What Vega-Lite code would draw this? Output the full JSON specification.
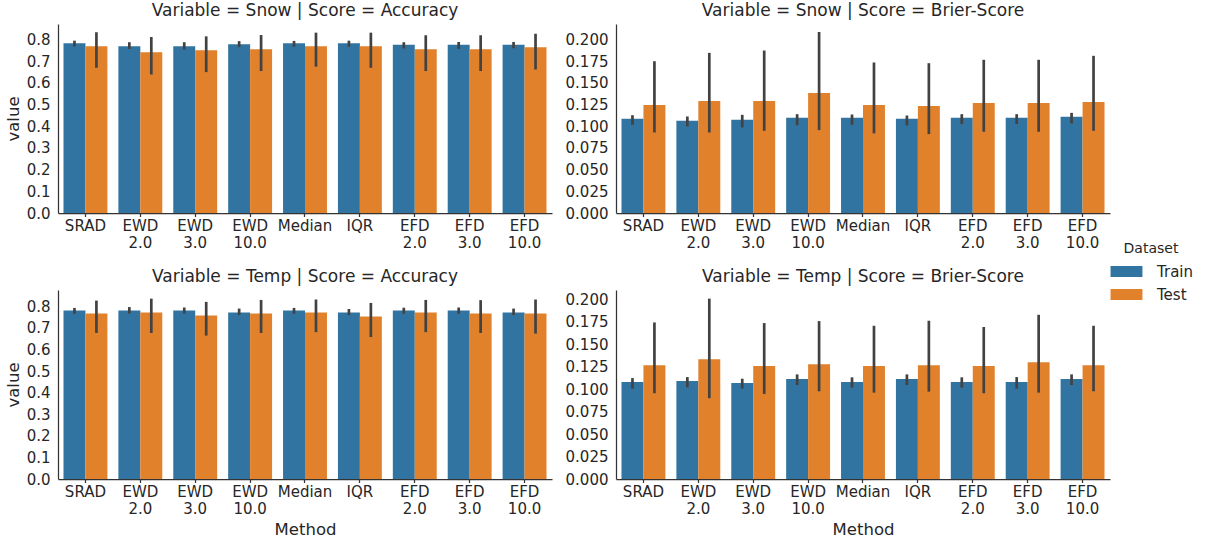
{
  "$schema": "https://vega.github.io/schema/vega-lite/v6.json",
  "padding": {"left": 5, "top": 2, "right": 5, "bottom": 5},
  "spacing": 17,
  "config": {
    "font": "DejaVu Sans",
    "view": {"stroke": null},
    "axis": {"grid": false, "ticks": false, "domainColor": "#333333", "domainWidth": 1.25, "labelColor": "#262626", "titleColor": "#262626", "labelFontSize": 15, "titleFontSize": 16.5, "titleFontWeight": "normal", "labelPadding": 8, "labelOverlap": false},
    "axisX": {"ticks": true, "tickSize": 3.5, "tickColor": "#333333", "tickWidth": 1.25, "labelPadding": 2},
    "title": {"fontSize": 17, "fontWeight": "normal", "color": "#262626", "anchor": "middle", "offset": 4},
    "legend": {"labelFontSize": 15, "titleFontSize": 14, "titleFontWeight": "normal", "labelColor": "#262626", "titleColor": "#262626"},
    "concat": {"spacing": 13}
  },
  "data": {"values": [
    {"Variable":"Snow","Score":"Accuracy","Method":"SRAD","Dataset":"Train","value":0.783,"lo":0.768,"hi":0.795},
    {"Variable":"Snow","Score":"Accuracy","Method":"SRAD","Dataset":"Test","value":0.769,"lo":0.670,"hi":0.834},
    {"Variable":"Snow","Score":"Accuracy","Method":"EWD 2.0","Dataset":"Train","value":0.769,"lo":0.757,"hi":0.788},
    {"Variable":"Snow","Score":"Accuracy","Method":"EWD 2.0","Dataset":"Test","value":0.742,"lo":0.639,"hi":0.812},
    {"Variable":"Snow","Score":"Accuracy","Method":"EWD 3.0","Dataset":"Train","value":0.769,"lo":0.754,"hi":0.788},
    {"Variable":"Snow","Score":"Accuracy","Method":"EWD 3.0","Dataset":"Test","value":0.751,"lo":0.650,"hi":0.815},
    {"Variable":"Snow","Score":"Accuracy","Method":"EWD 10.0","Dataset":"Train","value":0.779,"lo":0.765,"hi":0.793},
    {"Variable":"Snow","Score":"Accuracy","Method":"EWD 10.0","Dataset":"Test","value":0.756,"lo":0.655,"hi":0.821},
    {"Variable":"Snow","Score":"Accuracy","Method":"Median","Dataset":"Train","value":0.783,"lo":0.767,"hi":0.794},
    {"Variable":"Snow","Score":"Accuracy","Method":"Median","Dataset":"Test","value":0.769,"lo":0.675,"hi":0.832},
    {"Variable":"Snow","Score":"Accuracy","Method":"IQR","Dataset":"Train","value":0.783,"lo":0.767,"hi":0.795},
    {"Variable":"Snow","Score":"Accuracy","Method":"IQR","Dataset":"Test","value":0.769,"lo":0.670,"hi":0.832},
    {"Variable":"Snow","Score":"Accuracy","Method":"EFD 2.0","Dataset":"Train","value":0.776,"lo":0.759,"hi":0.788},
    {"Variable":"Snow","Score":"Accuracy","Method":"EFD 2.0","Dataset":"Test","value":0.756,"lo":0.655,"hi":0.820},
    {"Variable":"Snow","Score":"Accuracy","Method":"EFD 3.0","Dataset":"Train","value":0.776,"lo":0.757,"hi":0.789},
    {"Variable":"Snow","Score":"Accuracy","Method":"EFD 3.0","Dataset":"Test","value":0.756,"lo":0.655,"hi":0.820},
    {"Variable":"Snow","Score":"Accuracy","Method":"EFD 10.0","Dataset":"Train","value":0.776,"lo":0.760,"hi":0.789},
    {"Variable":"Snow","Score":"Accuracy","Method":"EFD 10.0","Dataset":"Test","value":0.765,"lo":0.662,"hi":0.827},

    {"Variable":"Snow","Score":"Brier-Score","Method":"SRAD","Dataset":"Train","value":0.1086,"lo":0.1017,"hi":0.1128},
    {"Variable":"Snow","Score":"Brier-Score","Method":"SRAD","Dataset":"Test","value":0.1247,"lo":0.0929,"hi":0.1751},
    {"Variable":"Snow","Score":"Brier-Score","Method":"EWD 2.0","Dataset":"Train","value":0.1063,"lo":0.0998,"hi":0.1113},
    {"Variable":"Snow","Score":"Brier-Score","Method":"EWD 2.0","Dataset":"Test","value":0.1293,"lo":0.0929,"hi":0.1847},
    {"Variable":"Snow","Score":"Brier-Score","Method":"EWD 3.0","Dataset":"Train","value":0.1075,"lo":0.0987,"hi":0.1132},
    {"Variable":"Snow","Score":"Brier-Score","Method":"EWD 3.0","Dataset":"Test","value":0.1293,"lo":0.0948,"hi":0.1874},
    {"Variable":"Snow","Score":"Brier-Score","Method":"EWD 10.0","Dataset":"Train","value":0.1098,"lo":0.1013,"hi":0.1140},
    {"Variable":"Snow","Score":"Brier-Score","Method":"EWD 10.0","Dataset":"Test","value":0.1384,"lo":0.0956,"hi":0.2088},
    {"Variable":"Snow","Score":"Brier-Score","Method":"Median","Dataset":"Train","value":0.1098,"lo":0.1017,"hi":0.1136},
    {"Variable":"Snow","Score":"Brier-Score","Method":"Median","Dataset":"Test","value":0.1247,"lo":0.0918,"hi":0.1736},
    {"Variable":"Snow","Score":"Brier-Score","Method":"IQR","Dataset":"Train","value":0.1086,"lo":0.1010,"hi":0.1124},
    {"Variable":"Snow","Score":"Brier-Score","Method":"IQR","Dataset":"Test","value":0.1235,"lo":0.0910,"hi":0.1728},
    {"Variable":"Snow","Score":"Brier-Score","Method":"EFD 2.0","Dataset":"Train","value":0.1098,"lo":0.1025,"hi":0.1140},
    {"Variable":"Snow","Score":"Brier-Score","Method":"EFD 2.0","Dataset":"Test","value":0.1270,"lo":0.0937,"hi":0.1767},
    {"Variable":"Snow","Score":"Brier-Score","Method":"EFD 3.0","Dataset":"Train","value":0.1098,"lo":0.1025,"hi":0.1140},
    {"Variable":"Snow","Score":"Brier-Score","Method":"EFD 3.0","Dataset":"Test","value":0.1270,"lo":0.0937,"hi":0.1767},
    {"Variable":"Snow","Score":"Brier-Score","Method":"EFD 10.0","Dataset":"Train","value":0.1109,"lo":0.1033,"hi":0.1155},
    {"Variable":"Snow","Score":"Brier-Score","Method":"EFD 10.0","Dataset":"Test","value":0.1281,"lo":0.0948,"hi":0.1813},

    {"Variable":"Temp","Score":"Accuracy","Method":"SRAD","Dataset":"Train","value":0.780,"lo":0.765,"hi":0.792},
    {"Variable":"Temp","Score":"Accuracy","Method":"SRAD","Dataset":"Test","value":0.766,"lo":0.676,"hi":0.826},
    {"Variable":"Temp","Score":"Accuracy","Method":"EWD 2.0","Dataset":"Train","value":0.780,"lo":0.766,"hi":0.796},
    {"Variable":"Temp","Score":"Accuracy","Method":"EWD 2.0","Dataset":"Test","value":0.771,"lo":0.676,"hi":0.835},
    {"Variable":"Temp","Score":"Accuracy","Method":"EWD 3.0","Dataset":"Train","value":0.780,"lo":0.766,"hi":0.794},
    {"Variable":"Temp","Score":"Accuracy","Method":"EWD 3.0","Dataset":"Test","value":0.757,"lo":0.664,"hi":0.820},
    {"Variable":"Temp","Score":"Accuracy","Method":"EWD 10.0","Dataset":"Train","value":0.771,"lo":0.759,"hi":0.789},
    {"Variable":"Temp","Score":"Accuracy","Method":"EWD 10.0","Dataset":"Test","value":0.766,"lo":0.676,"hi":0.829},
    {"Variable":"Temp","Score":"Accuracy","Method":"Median","Dataset":"Train","value":0.780,"lo":0.765,"hi":0.792},
    {"Variable":"Temp","Score":"Accuracy","Method":"Median","Dataset":"Test","value":0.771,"lo":0.680,"hi":0.831},
    {"Variable":"Temp","Score":"Accuracy","Method":"IQR","Dataset":"Train","value":0.771,"lo":0.759,"hi":0.787},
    {"Variable":"Temp","Score":"Accuracy","Method":"IQR","Dataset":"Test","value":0.752,"lo":0.657,"hi":0.815},
    {"Variable":"Temp","Score":"Accuracy","Method":"EFD 2.0","Dataset":"Train","value":0.780,"lo":0.765,"hi":0.793},
    {"Variable":"Temp","Score":"Accuracy","Method":"EFD 2.0","Dataset":"Test","value":0.771,"lo":0.680,"hi":0.829},
    {"Variable":"Temp","Score":"Accuracy","Method":"EFD 3.0","Dataset":"Train","value":0.780,"lo":0.765,"hi":0.794},
    {"Variable":"Temp","Score":"Accuracy","Method":"EFD 3.0","Dataset":"Test","value":0.766,"lo":0.676,"hi":0.828},
    {"Variable":"Temp","Score":"Accuracy","Method":"EFD 10.0","Dataset":"Train","value":0.771,"lo":0.759,"hi":0.789},
    {"Variable":"Temp","Score":"Accuracy","Method":"EFD 10.0","Dataset":"Test","value":0.766,"lo":0.673,"hi":0.831},

    {"Variable":"Temp","Score":"Brier-Score","Method":"SRAD","Dataset":"Train","value":0.1079,"lo":0.1006,"hi":0.1123},
    {"Variable":"Temp","Score":"Brier-Score","Method":"SRAD","Dataset":"Test","value":0.1267,"lo":0.0954,"hi":0.1742},
    {"Variable":"Temp","Score":"Brier-Score","Method":"EWD 2.0","Dataset":"Train","value":0.1090,"lo":0.1020,"hi":0.1134},
    {"Variable":"Temp","Score":"Brier-Score","Method":"EWD 2.0","Dataset":"Test","value":0.1333,"lo":0.0899,"hi":0.2007},
    {"Variable":"Temp","Score":"Brier-Score","Method":"EWD 3.0","Dataset":"Train","value":0.1068,"lo":0.1006,"hi":0.1116},
    {"Variable":"Temp","Score":"Brier-Score","Method":"EWD 3.0","Dataset":"Test","value":0.1256,"lo":0.0947,"hi":0.1735},
    {"Variable":"Temp","Score":"Brier-Score","Method":"EWD 10.0","Dataset":"Train","value":0.1112,"lo":0.1046,"hi":0.1164},
    {"Variable":"Temp","Score":"Brier-Score","Method":"EWD 10.0","Dataset":"Test","value":0.1278,"lo":0.0976,"hi":0.1757},
    {"Variable":"Temp","Score":"Brier-Score","Method":"Median","Dataset":"Train","value":0.1079,"lo":0.1017,"hi":0.1131},
    {"Variable":"Temp","Score":"Brier-Score","Method":"Median","Dataset":"Test","value":0.1256,"lo":0.0961,"hi":0.1705},
    {"Variable":"Temp","Score":"Brier-Score","Method":"IQR","Dataset":"Train","value":0.1112,"lo":0.1046,"hi":0.1164},
    {"Variable":"Temp","Score":"Brier-Score","Method":"IQR","Dataset":"Test","value":0.1267,"lo":0.0972,"hi":0.1761},
    {"Variable":"Temp","Score":"Brier-Score","Method":"EFD 2.0","Dataset":"Train","value":0.1079,"lo":0.1017,"hi":0.1131},
    {"Variable":"Temp","Score":"Brier-Score","Method":"EFD 2.0","Dataset":"Test","value":0.1256,"lo":0.0954,"hi":0.1691},
    {"Variable":"Temp","Score":"Brier-Score","Method":"EFD 3.0","Dataset":"Train","value":0.1079,"lo":0.1006,"hi":0.1134},
    {"Variable":"Temp","Score":"Brier-Score","Method":"EFD 3.0","Dataset":"Test","value":0.1300,"lo":0.0961,"hi":0.1827},
    {"Variable":"Temp","Score":"Brier-Score","Method":"EFD 10.0","Dataset":"Train","value":0.1112,"lo":0.1046,"hi":0.1164},
    {"Variable":"Temp","Score":"Brier-Score","Method":"EFD 10.0","Dataset":"Test","value":0.1267,"lo":0.0976,"hi":0.1705}
  ]},
  "resolve": {"scale": {"color": "shared"}},
  "vconcat": [
    {"hconcat": [
      {
        "width": 494, "height": 189,
        "title": "Variable = Snow | Score = Accuracy",
        "transform": [{"filter": "datum.Variable === 'Snow' && datum.Score === 'Accuracy'"}],
        "encoding": {
          "x": {"field": "Method", "type": "nominal", "sort": ["SRAD","EWD 2.0","EWD 3.0","EWD 10.0","Median","IQR","EFD 2.0","EFD 3.0","EFD 10.0"], "scale": {"paddingInner": 0.2, "paddingOuter": 0.1}, "axis": {"title": null, "labelAngle": 0, "labelExpr": "split(datum.label, ' ')", "labelLineHeight": 17}},
          "xOffset": {"field": "Dataset", "type": "nominal", "sort": ["Train","Test"], "scale": {"paddingInner": 0, "paddingOuter": 0}}
        },
        "layer": [
          {"mark": "bar", "encoding": {
            "y": {"field": "value", "type": "quantitative", "title": "value", "scale": {"domain": [0, 0.872], "nice": false, "zero": true}, "axis": {"values": [0,0.1,0.2,0.3,0.4,0.5,0.6,0.7,0.8], "format": ".1f", "titlePadding": 5, "labelOverlap": false}},
            "color": {"field": "Dataset", "type": "nominal", "sort": ["Train","Test"], "scale": {"domain": ["Train","Test"], "range": ["#3274a1","#e1812c"]}, "legend": {"title": "Dataset", "orient": "none", "legendX": 1051, "legendY": 218, "symbolType": "M-2.9,-1H2.9V1H-2.9Z", "symbolSize": 121, "symbolStrokeWidth": 0, "symbolOffset": 10, "labelOffset": 23, "rowPadding": 7, "titlePadding": 8, "titleAnchor": "middle"}}
          }},
          {"mark": {"type": "rule", "color": "#424242", "strokeWidth": 2.7}, "encoding": {
            "y": {"field": "lo", "type": "quantitative", "title": "value", "axis": {"values": [0,0.1,0.2,0.3,0.4,0.5,0.6,0.7,0.8], "format": ".1f", "titlePadding": 5, "labelOverlap": false}},
            "y2": {"field": "hi"}
          }}
        ]
      },
      {
        "width": 494, "height": 189,
        "title": "Variable = Snow | Score = Brier-Score",
        "transform": [{"filter": "datum.Variable === 'Snow' && datum.Score === 'Brier-Score'"}],
        "encoding": {
          "x": {"field": "Method", "type": "nominal", "sort": ["SRAD","EWD 2.0","EWD 3.0","EWD 10.0","Median","IQR","EFD 2.0","EFD 3.0","EFD 10.0"], "scale": {"paddingInner": 0.2, "paddingOuter": 0.1}, "axis": {"title": null, "labelAngle": 0, "labelExpr": "split(datum.label, ' ')", "labelLineHeight": 17}},
          "xOffset": {"field": "Dataset", "type": "nominal", "sort": ["Train","Test"], "scale": {"paddingInner": 0, "paddingOuter": 0}}
        },
        "layer": [
          {"mark": "bar", "encoding": {
            "y": {"field": "value", "type": "quantitative", "title": null, "scale": {"domain": [0, 0.218], "nice": false, "zero": true}, "axis": {"values": [0,0.025,0.05,0.075,0.1,0.125,0.15,0.175,0.2], "format": ".3f", "labelOverlap": false}},
            "color": {"field": "Dataset", "type": "nominal", "sort": ["Train","Test"]}
          }},
          {"mark": {"type": "rule", "color": "#424242", "strokeWidth": 2.7}, "encoding": {
            "y": {"field": "lo", "type": "quantitative", "title": null, "axis": {"values": [0,0.025,0.05,0.075,0.1,0.125,0.15,0.175,0.2], "format": ".3f", "labelOverlap": false}},
            "y2": {"field": "hi"}
          }}
        ]
      }
    ]},
    {"hconcat": [
      {
        "width": 494, "height": 189,
        "title": "Variable = Temp | Score = Accuracy",
        "transform": [{"filter": "datum.Variable === 'Temp' && datum.Score === 'Accuracy'"}],
        "encoding": {
          "x": {"field": "Method", "type": "nominal", "sort": ["SRAD","EWD 2.0","EWD 3.0","EWD 10.0","Median","IQR","EFD 2.0","EFD 3.0","EFD 10.0"], "scale": {"paddingInner": 0.2, "paddingOuter": 0.1}, "axis": {"title": "Method", "titlePadding": 5, "labelAngle": 0, "labelExpr": "split(datum.label, ' ')", "labelLineHeight": 17}},
          "xOffset": {"field": "Dataset", "type": "nominal", "sort": ["Train","Test"], "scale": {"paddingInner": 0, "paddingOuter": 0}}
        },
        "layer": [
          {"mark": "bar", "encoding": {
            "y": {"field": "value", "type": "quantitative", "title": "value", "scale": {"domain": [0, 0.875], "nice": false, "zero": true}, "axis": {"values": [0,0.1,0.2,0.3,0.4,0.5,0.6,0.7,0.8], "format": ".1f", "titlePadding": 5, "labelOverlap": false}},
            "color": {"field": "Dataset", "type": "nominal", "sort": ["Train","Test"]}
          }},
          {"mark": {"type": "rule", "color": "#424242", "strokeWidth": 2.7}, "encoding": {
            "y": {"field": "lo", "type": "quantitative", "title": "value", "axis": {"values": [0,0.1,0.2,0.3,0.4,0.5,0.6,0.7,0.8], "format": ".1f", "titlePadding": 5, "labelOverlap": false}},
            "y2": {"field": "hi"}
          }}
        ]
      },
      {
        "width": 494, "height": 189,
        "title": "Variable = Temp | Score = Brier-Score",
        "transform": [{"filter": "datum.Variable === 'Temp' && datum.Score === 'Brier-Score'"}],
        "encoding": {
          "x": {"field": "Method", "type": "nominal", "sort": ["SRAD","EWD 2.0","EWD 3.0","EWD 10.0","Median","IQR","EFD 2.0","EFD 3.0","EFD 10.0"], "scale": {"paddingInner": 0.2, "paddingOuter": 0.1}, "axis": {"title": "Method", "titlePadding": 5, "labelAngle": 0, "labelExpr": "split(datum.label, ' ')", "labelLineHeight": 17}},
          "xOffset": {"field": "Dataset", "type": "nominal", "sort": ["Train","Test"], "scale": {"paddingInner": 0, "paddingOuter": 0}}
        },
        "layer": [
          {"mark": "bar", "encoding": {
            "y": {"field": "value", "type": "quantitative", "title": null, "scale": {"domain": [0, 0.2103], "nice": false, "zero": true}, "axis": {"values": [0,0.025,0.05,0.075,0.1,0.125,0.15,0.175,0.2], "format": ".3f", "labelOverlap": false}},
            "color": {"field": "Dataset", "type": "nominal", "sort": ["Train","Test"]}
          }},
          {"mark": {"type": "rule", "color": "#424242", "strokeWidth": 2.7}, "encoding": {
            "y": {"field": "lo", "type": "quantitative", "title": null, "axis": {"values": [0,0.025,0.05,0.075,0.1,0.125,0.15,0.175,0.2], "format": ".3f", "labelOverlap": false}},
            "y2": {"field": "hi"}
          }}
        ]
      }
    ]}
  ]
}
